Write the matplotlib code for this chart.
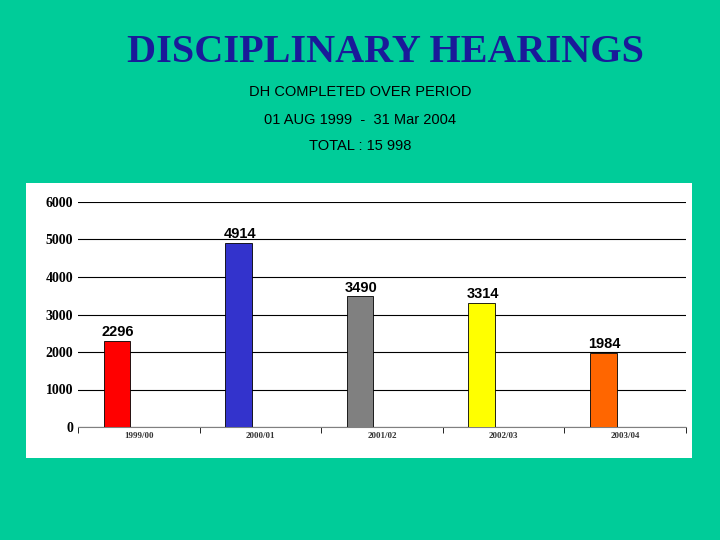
import matplotlib
matplotlib.use("Agg")
import matplotlib.pyplot as plt
import numpy as np

categories = ["1999/00", "2000/01", "2001/02", "2002/03", "2003/04"]
values = [2296, 4914, 3490, 3314, 1984]
colors = ["#FF0000", "#3333CC", "#808080", "#FFFF00", "#FF6600"]

bg = "#00CC99"
fig = plt.figure(figsize=(7.2, 5.4), dpi=100, facecolor=bg)
fig.text(0.535, 1-52/540, "DISCIPLINARY HEARINGS", ha="center", va="center",
         fontsize=29, fontweight="bold", color="#1A1A99", family="Liberation Serif")
fig.text(0.50, 1-92/540, "DH COMPLETED OVER PERIOD", ha="center", va="center", fontsize=10.5, family="Liberation Sans")
fig.text(0.50, 1-120/540, "01 AUG 1999  -  31 Mar 2004", ha="center", va="center", fontsize=10.5, family="Liberation Sans")
fig.text(0.50, 1-146/540, "TOTAL : 15 998", ha="center", va="center", fontsize=10.5, family="Liberation Sans")

panel = fig.add_axes([26/720, 1-458/540, (692-26)/720, (458-183)/540], zorder=0)
panel.set_facecolor("white")
panel.set_xticks([]); panel.set_yticks([])
for s in panel.spines.values():
    s.set_visible(False)

ax = fig.add_axes([78/720, 1-427/540, (686-78)/720, (427-202)/540], zorder=1)
ax.patch.set_alpha(0)
x = np.arange(len(categories))
pos = x - 0.18
ax.bar(pos, values, width=0.22, color=colors, edgecolor="black", linewidth=0.6, zorder=3)
for p, v in zip(pos, values):
    ax.text(p + 0.01, v + 40, str(v), ha="center", va="bottom", fontsize=10.5,
            fontweight="bold", family="Liberation Sans", zorder=4)
ax.set_xlim(-0.5, 4.5)
ax.set_ylim(0, 6000)
ax.set_yticks(range(0, 6001, 1000))
ax.yaxis.grid(True, color="black", linewidth=0.8, zorder=0)
ax.set_axisbelow(True)
ax.set_xticks(x)
ax.set_xticklabels(categories, family="Liberation Serif", fontsize=6.5, fontweight="bold", color="#333333")
ax.set_xticks(np.arange(-0.5, 4.6, 1), minor=True)
ax.tick_params(axis="x", which="major", length=0)
ax.tick_params(axis="x", which="minor", length=4)
ax.tick_params(axis="y", length=0)
for lab in ax.get_yticklabels():
    lab.set_family("Liberation Serif"); lab.set_fontweight("bold"); lab.set_fontsize(10)
for s in ["top", "right", "left"]:
    ax.spines[s].set_visible(False)
ax.spines["bottom"].set_color("gray")
fig.savefig("out.png", facecolor=bg)
